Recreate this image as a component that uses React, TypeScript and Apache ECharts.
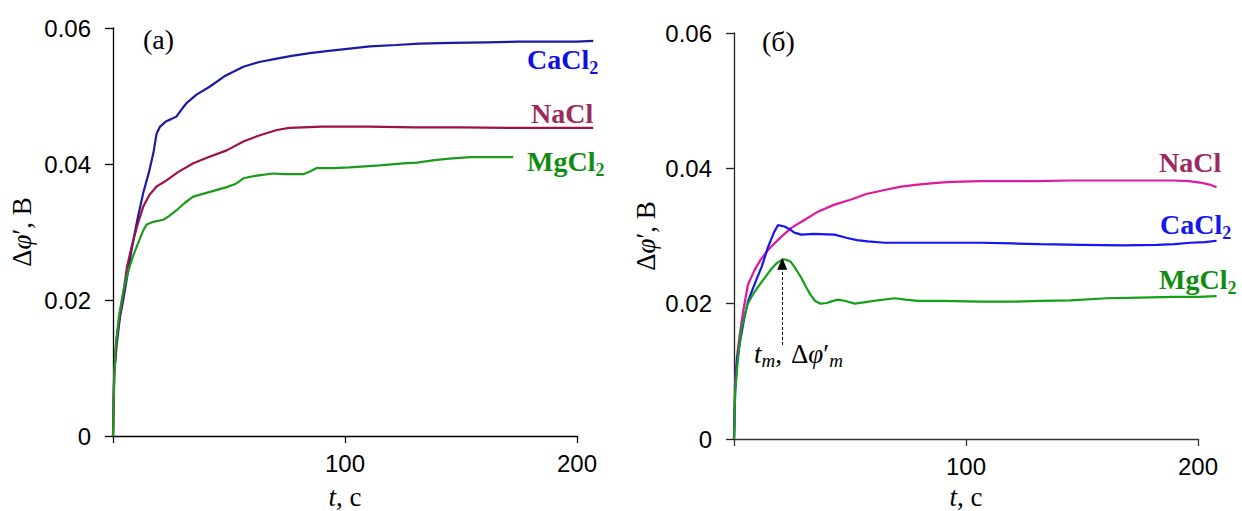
import React, { useEffect, useRef } from "react";
import * as echarts from "echarts";

// ---- data (t, s ; Δφ', V) ----
const xTicks = [0, 100, 200];
const yTicks = [0, 0.02, 0.04, 0.06];

const leftCaCl2: [number, number][] = [
  [0, 0], [0.5, 0.009], [1.6, 0.0135], [3, 0.0175], [4.4, 0.02], [6.3, 0.0238], [8, 0.0274], [10.5, 0.0318], [13, 0.0357],
  [15.5, 0.0388], [17.4, 0.0416], [18.8, 0.0445], [20.3, 0.0455], [23, 0.0463], [25, 0.0466], [27.4, 0.047], [29.5, 0.048],
  [31.8, 0.049], [36, 0.0502], [41.8, 0.0514], [48, 0.0529], [56.2, 0.0543], [63, 0.055], [70.6, 0.0555], [77, 0.0559],
  [84.9, 0.0563], [92, 0.0566], [100, 0.0569], [110.8, 0.0573], [122, 0.0575], [132, 0.0577], [146, 0.0578], [161, 0.0579],
  [175, 0.058], [190, 0.058], [200, 0.058], [207, 0.0581],
];
const leftNaCl: [number, number][] = [
  [0, 0], [0.5, 0.009], [1.5, 0.0142], [3, 0.0178], [4.5, 0.0212], [6, 0.0248], [8, 0.0278], [10.5, 0.031], [13, 0.0337],
  [15.8, 0.0355], [18.8, 0.0367], [23.1, 0.0376], [28, 0.0388], [34.6, 0.0401], [41, 0.041], [49, 0.042], [56.2, 0.0433],
  [63, 0.0442], [70.6, 0.045], [76, 0.0453], [82, 0.0454], [90, 0.0455], [110, 0.0455], [130, 0.0454], [150, 0.0454],
  [170, 0.0453], [190, 0.0453], [207, 0.0453],
];
const leftMgCl2: [number, number][] = [
  [0, 0], [0.5, 0.008], [1, 0.0126], [2.5, 0.0175], [4.4, 0.0212], [6.5, 0.0242], [8.8, 0.0266], [11, 0.0285], [13, 0.0302],
  [14.5, 0.0311], [17.4, 0.0315], [21.7, 0.0318], [24, 0.0323], [27.4, 0.0332], [31, 0.0343], [34.6, 0.0352], [41.8, 0.0359],
  [49, 0.0366], [53, 0.0371], [56.2, 0.0379], [62, 0.0383], [69, 0.0386], [73.4, 0.0385], [82, 0.0385], [84.9, 0.0389],
  [87.8, 0.0394], [95, 0.0394], [102, 0.0395], [115, 0.0398], [125, 0.0401], [131, 0.0402], [139.5, 0.0406], [145, 0.0408],
  [154, 0.041], [165, 0.041], [172.5, 0.041],
];

const rightNaCl: [number, number][] = [
  [0, 0], [0.4, 0.008], [1.2, 0.012], [2.5, 0.0155], [4, 0.019], [6, 0.0228], [8.9, 0.025], [11.5, 0.0265], [14.6, 0.0279],
  [18, 0.0291], [20.1, 0.0298], [24.7, 0.0312], [30, 0.0323], [36.2, 0.0336], [43, 0.0346], [50.5, 0.0354], [57, 0.0362],
  [64.9, 0.0368], [72, 0.0373], [79.2, 0.0376], [86, 0.0378], [93.6, 0.038], [106.5, 0.0381], [117.7, 0.0381], [130, 0.0381],
  [145, 0.0382], [160.7, 0.0382], [175, 0.0382], [189.4, 0.0382], [196, 0.0381], [200.9, 0.0379], [205, 0.0376], [208, 0.0372],
];
const rightCaCl2: [number, number][] = [
  [0, 0], [0.5, 0.007], [1.4, 0.0118], [3, 0.0152], [4.5, 0.018], [6, 0.0203], [9, 0.023], [12, 0.0255], [14.6, 0.0283],
  [17.2, 0.0305], [18.9, 0.0316], [21.8, 0.0314], [24, 0.031], [26, 0.0305], [29, 0.0302], [34.4, 0.0303], [43.3, 0.0302],
  [48.8, 0.0297], [53, 0.0294], [57.7, 0.0292], [64.9, 0.029], [75, 0.029], [86.4, 0.029], [106.5, 0.029], [120, 0.0289],
  [132, 0.0288], [150, 0.0287], [167.9, 0.0286], [182.3, 0.0287], [190, 0.0288], [196.6, 0.029], [203, 0.0291], [208, 0.0293],
];
const rightMgCl2: [number, number][] = [
  [0, 0], [0.5, 0.007], [1.4, 0.0107], [3, 0.016], [5.7, 0.0198], [8, 0.0213], [10, 0.0223], [13, 0.0237], [15.8, 0.025],
  [18.5, 0.026], [20.8, 0.0265], [22.5, 0.0265], [24.4, 0.0262], [26.5, 0.0252], [28.7, 0.024], [31, 0.0225], [33, 0.0213],
  [35, 0.0204], [37.3, 0.02], [40, 0.0201], [41.6, 0.0203], [44.8, 0.0206], [48, 0.0204], [52, 0.02], [56, 0.0202],
  [62, 0.0205], [69.2, 0.0208], [74, 0.0206], [79.2, 0.0204], [89, 0.0204], [106.5, 0.0203], [120, 0.0203], [132, 0.0204],
  [145, 0.0205], [160.7, 0.0208], [175, 0.0209], [189.4, 0.021], [200, 0.021], [208, 0.0211],
];

// arrow marking t_m, Δφ'_m on the right MgCl2 curve
const peakT = 20.8;
const arrowFrom = 0.0139;
const arrowTo = 0.0259;

// axis ranges
const X_MAX = 200;
const DATA_X_MAX = 208; // recorded curves run a little past the last tick
const Y_MAX = 0.06;

const SERIF = "'Liberation Serif', 'Times New Roman', serif";
const SANS = "'Liberation Sans', Arial, sans-serif";

const mainTok = { fontFamily: SERIF, fontSize: 28, fontWeight: "bold", lineHeight: 30, verticalAlign: "top" };
const subTok = { fontFamily: SERIF, fontSize: 18, fontWeight: "bold", lineHeight: 18, padding: [14, 0, 0, 0], verticalAlign: "top" };

function label(text: string, x: number, y: number, color: string) {
  return {
    type: "text",
    left: x,
    top: y,
    silent: true,
    style: {
      text,
      fill: color,
      rich: {
        m: { ...mainTok, fill: color },
        s: { ...subTok, fill: color },
      },
    },
  };
}

function makeXAxis(gridIndex: number, color: string, gap: number) {
  return {
    type: "value",
    gridIndex,
    min: 0,
    max: X_MAX,
    interval: 100,
    name: "{i|t}{n|, с}",
    nameLocation: "middle",
    nameGap: gap,
    nameTextStyle: {
      rich: {
        i: { fontFamily: SERIF, fontSize: 27, fontStyle: "italic", lineHeight: 26, color: "#000" },
        n: { fontFamily: SERIF, fontSize: 27, lineHeight: 26, color: "#000" },
      },
    },
    axisLine: { show: true, lineStyle: { color, width: 1.3 } },
    axisTick: { show: true, length: 7, lineStyle: { color, width: 1.3 } },
    axisLabel: {
      fontFamily: SANS,
      fontSize: 24,
      color: "#000",
      margin: 15,
      formatter: (v: number) => (v === 0 ? "" : String(v)),
    },
    splitLine: { show: false },
  };
}

function makeYAxis(gridIndex: number, color: string, gap: number) {
  return {
    type: "value",
    gridIndex,
    min: 0,
    max: Y_MAX,
    interval: 0.02,
    name: "{n|Δ}{i|φ}{n|′, B}",
    nameLocation: "middle",
    nameRotate: 90,
    nameGap: gap,
    nameTextStyle: {
      rich: {
        i: { fontFamily: SERIF, fontSize: 27, fontStyle: "italic", color: "#000" },
        n: { fontFamily: SERIF, fontSize: 27, color: "#000" },
      },
    },
    axisLine: { show: true, lineStyle: { color, width: 1.3 } },
    axisTick: { show: true, length: 8, lineStyle: { color, width: 1.3 } },
    axisLabel: {
      fontFamily: SANS,
      fontSize: 24,
      color: "#000",
      margin: 22,
      formatter: (v: number) => (v === 0 ? "0" : v.toFixed(2)),
    },
    splitLine: { show: false },
  };
}

function hiddenX(gridIndex: number) {
  return { type: "value", gridIndex, min: 0, max: DATA_X_MAX, show: false, splitLine: { show: false } };
}
function hiddenY(gridIndex: number) {
  return { type: "value", gridIndex, min: 0, max: Y_MAX, show: false, splitLine: { show: false } };
}

function line(data: [number, number][], color: string, idx: number, extra: any = {}) {
  return {
    type: "line",
    xAxisIndex: idx,
    yAxisIndex: idx,
    data,
    showSymbol: false,
    symbol: "none",
    clip: false,
    smooth: false,
    lineStyle: { color, width: 2.2 },
    itemStyle: { color },
    ...extra,
  };
}

export default function App() {
  const ref = useRef<HTMLDivElement>(null);
  useEffect(() => {
    if (!ref.current) return;
    const chart = echarts.init(ref.current, undefined, { renderer: "svg" });
    const W = 464;
    const WD = (W * DATA_X_MAX) / X_MAX;
    const g = { containLabel: false, outerBoundsMode: "none" };
    const option: any = {
      animation: false,
      backgroundColor: "#fff",
      grid: [
        { ...g, left: 113, top: 28, width: W, height: 408 },
        { ...g, left: 734, top: 33, width: W, height: 406 },
        { ...g, left: 113, top: 28, width: WD, height: 408 },
        { ...g, left: 734, top: 33, width: WD, height: 406 },
      ],
      xAxis: [makeXAxis(0, "#000", 48), makeXAxis(1, "#333", 45), hiddenX(2), hiddenX(3)],
      yAxis: [makeYAxis(0, "#000", 78), makeYAxis(1, "#222", 75), hiddenY(2), hiddenY(3)],
      series: [
        line(leftCaCl2, "#1a1aa6", 2),
        line(leftNaCl, "#a01048", 2),
        line(leftMgCl2, "#1c9a1c", 2),
        line(rightNaCl, "#e0189c", 3),
        line(rightCaCl2, "#1414f5", 3),
        line(rightMgCl2, "#14a014", 3, {
          markLine: {
            silent: true,
            symbol: ["none", "triangle"],
            symbolSize: [10, 12],
            label: { show: false },
            lineStyle: { type: [3, 2], color: "#000", width: 1 },
            data: [[{ coord: [peakT, arrowFrom] }, { coord: [peakT, arrowTo] }]],
          },
        }),
      ],
      graphic: [
        { type: "text", left: 143, top: 25, silent: true, style: { text: "(a)", fontFamily: SERIF, fontSize: 28, fill: "#000" } },
        { type: "text", left: 762, top: 27, silent: true, style: { text: "(б)", fontFamily: SERIF, fontSize: 28, fill: "#000" } },
        label("{m|CaCl}{s|2}", 527, 45, "#1010e0"),
        label("{m|NaCl}", 531, 99, "#9c2a5c"),
        label("{m|MgCl}{s|2}", 527, 147, "#108c10"),
        label("{m|NaCl}", 1159, 148, "#9c2a62"),
        label("{m|CaCl}{s|2}", 1160, 210, "#1515ee"),
        label("{m|MgCl}{s|2}", 1159, 265, "#108c10"),
        {
          type: "text",
          left: 754,
          top: 340,
          silent: true,
          style: {
            text: "{i|t}{s|m}{n|,}{d|Δ}{i|φ}{n|′}{s|m}",
            rich: {
              i: { fontFamily: SERIF, fontSize: 27, fontStyle: "italic", lineHeight: 30, verticalAlign: "top", fill: "#000" },
              n: { fontFamily: SERIF, fontSize: 27, lineHeight: 30, verticalAlign: "top", fill: "#000" },
              d: { fontFamily: SERIF, fontSize: 27, lineHeight: 30, verticalAlign: "top", fill: "#000", padding: [0, 0, 0, 9] },
              s: { fontFamily: SERIF, fontSize: 19, fontStyle: "italic", lineHeight: 19, padding: [11, 0, 0, 0], verticalAlign: "top", fill: "#000" },
            },
          },
        },
      ],
    };
    chart.setOption(option);
    return () => chart.dispose();
  }, []);
  return (
    <div
      ref={ref}
      style={{ position: "absolute", left: 0, top: 0, width: 1242, height: 511, background: "#fff" }}
    />
  );
}
